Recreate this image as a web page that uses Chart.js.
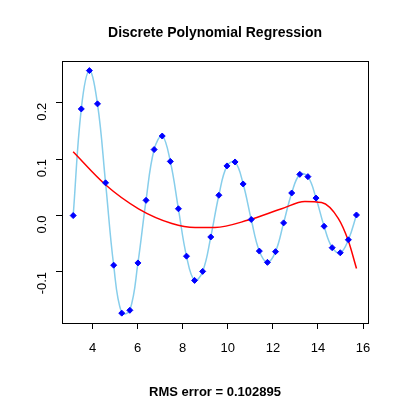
<!DOCTYPE html>
<html>
<head>
<meta charset="utf-8">
<script src="https://cdn.jsdelivr.net/npm/chart.js@4/dist/chart.umd.min.js"></script>
<style>
  html, body { margin: 0; padding: 0; background: #fff; }
  #wrap { width: 400px; height: 400px; }
</style>
</head>
<body>
<div id="wrap"><canvas id="c" width="400" height="400"></canvas></div>
<script>
// Sample points (x runs from pi to 5*pi in 35 steps)
const sampleY = [0.000, 0.189, 0.257, 0.198, 0.058, -0.088, -0.173, -0.168, -0.084, 0.027,
  0.117, 0.141, 0.096, 0.012, -0.072, -0.115, -0.099, -0.038, 0.036, 0.088,
  0.095, 0.056, -0.007, -0.063, -0.083, -0.064, -0.013, 0.040, 0.073, 0.069,
  0.031, -0.019, -0.057, -0.066, -0.043, 0.001];
const sampleX = sampleY.map((_, i) => Math.PI + i * 4 * Math.PI / 35);

// Fitted polynomial
const fitX = [3.14, 4.56, 6.04, 7.52, 8.55, 9.43, 10.91, 12.39, 13.42, 14.16, 14.90, 15.34, 15.71];
const fitY = [0.113, 0.055, 0.012, -0.014, -0.021, -0.021, -0.008, 0.012, 0.025, 0.023, -0.005, -0.044, -0.094];

const xTicks = [4, 6, 8, 10, 12, 14, 16];
const yTicks = [-0.1, 0.0, 0.1, 0.2];

const FONT = 'Liberation Sans, Arial, sans-serif';

// Box around the plot plus the two headline texts
const frame = {
  id: 'frame',
  afterDraw(chart) {
    const { ctx, chartArea: a } = chart;
    ctx.save();
    ctx.strokeStyle = '#000';
    ctx.lineWidth = 1;
    ctx.strokeRect(a.left + 0.5, a.top + 0.5, a.right - a.left, a.bottom - a.top);
    ctx.fillStyle = '#000';
    ctx.textAlign = 'center';
    ctx.textBaseline = 'middle';
    ctx.font = 'bold 14px ' + FONT;
    ctx.fillText('Discrete Polynomial Regression', 215, 33);
    ctx.font = 'bold 13px ' + FONT;
    ctx.fillText('RMS error = 0.102895', 215, 392);
    ctx.restore();
  }
};

new Chart(document.getElementById('c'), {
  type: 'scatter',
  data: {
    datasets: [
      {
        label: 'points',
        data: sampleX.map((x, i) => ({ x, y: sampleY[i] })),
        showLine: false,
        pointStyle: 'rectRot',
        pointRadius: 3,
        backgroundColor: '#0000ff',
        borderColor: '#0000ff',
        order: 0
      },
      {
        label: 'interp',
        data: sampleX.map((x, i) => ({ x, y: sampleY[i] })),
        showLine: true,
        pointRadius: 0,
        borderColor: '#87ceeb',
        borderWidth: 1.5,
        tension: 0.4,
        order: 2
      },
      {
        label: 'fit',
        data: fitX.map((x, i) => ({ x, y: fitY[i] })),
        showLine: true,
        pointRadius: 0,
        borderColor: '#ff0000',
        borderWidth: 1.5,
        cubicInterpolationMode: 'monotone',
        order: 1
      }
    ]
  },
  options: {
    responsive: false,
    animation: false,
    layout: { padding: { top: 61, right: 32, bottom: 37, left: 0 } },
    plugins: { legend: { display: false }, tooltip: { enabled: false } },
    scales: {
      x: {
        type: 'linear',
        min: 2.645, max: 16.22,
        afterBuildTicks: s => { s.ticks = xTicks.map(v => ({ value: v })); },
        afterFit: s => { s.height = 40; },
        grid: { drawOnChartArea: false, color: '#000', tickLength: 6 },
        border: { display: false },
        ticks: { color: '#000', font: { size: 13, family: FONT }, padding: 12, maxRotation: 0 }
      },
      y: {
        type: 'linear',
        min: -0.1905, max: 0.274,
        afterBuildTicks: s => { s.ticks = yTicks.map(v => ({ value: v })); },
        afterFit: s => { s.width = 62; },
        grid: { drawOnChartArea: false, color: '#000', tickLength: 6 },
        border: { display: false },
        ticks: {
          color: '#000', font: { size: 13, family: FONT }, padding: 14,
          minRotation: 90, maxRotation: 90,
          callback: v => v.toFixed(1)
        }
      }
    }
  },
  plugins: [frame]
});
</script>
</body>
</html>
